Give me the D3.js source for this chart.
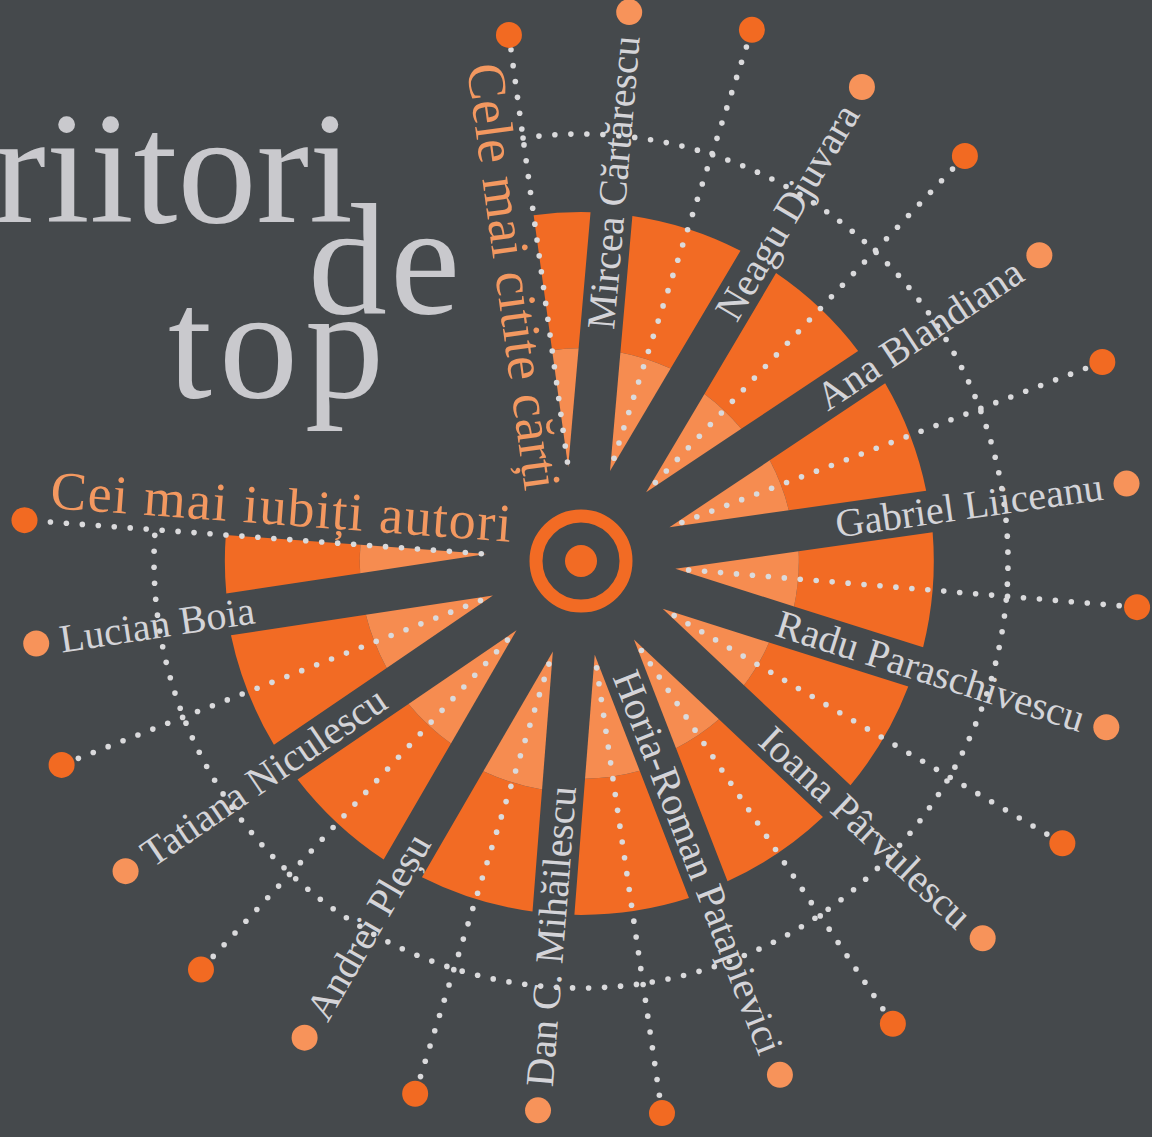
<!DOCTYPE html>
<html>
<head>
<meta charset="utf-8">
<script src="https://cdn.jsdelivr.net/npm/d3@7"></script>
<style>
html, body { margin: 0; padding: 0; background: #45494c; }
svg { display: block; }
text { font-family: "Liberation Serif", "Times New Roman", serif; }
</style>
</head>
<body>
<svg id="chart" width="1152" height="1137"></svg>
<script>
// authors sit in the dark gaps, clockwise from the top
var authors = ["Mircea Cărtărescu", "Neagu Djuvara", "Ana Blandiana", "Gabriel Liiceanu",
    "Radu Paraschivescu", "Ioana Pârvulescu", "Horia-Roman Patapievici", "Dan C. Mihăilescu",
    "Andrei Pleșu", "Tatiana Niculescu", "Lucian Boia"];
// 12 slices (first and last are half slices cut by the two axes)
var totalScore = [62.3, 62.3, 62.1, 62.9, 63.0, 62.6, 62.9, 63.2, 63.2, 63.9, 63.9, 63.6];
var innerScore = [38.0, 37.9, 37.1, 38.2, 38.9, 36.6, 37.5, 38.9, 41.4, 40.0, 39.6, 39.5];
var axisTitles = ["Cele mai citite cărți", "Cei mai iubiți autori"];
var titleWords = ["Scriitori", "de", "top"];

var svg = d3.select("#chart"),
    width = +svg.attr("width"),
    height = +svg.attr("height"),
    cx = 581, cy = 561,
    halfGap = 21;

var dark = "#f26b24", light = "#f68c50", dotGrey = "#dadadc", textGrey = "#d4d4d8";

var rad = Math.PI / 180;
var angle = d3.scaleLinear().domain([0, 11]).range([-97.8 * rad, 184.2 * rad]);
var r = d3.scaleLinear().domain([0, 100]).range([0, 560]);

svg.append("rect").attr("width", width).attr("height", height).attr("fill", "#45494c");

var g = svg.append("g").attr("transform", "translate(" + cx + "," + cy + ")");

function pt(a, rr) { return [rr * Math.cos(a), rr * Math.sin(a)]; }

// an edge is a line parallel to the radius at angle a, shifted by off
function edge(a, off) { return {a: a, off: off}; }
function edgeAt(e, rr) { return e.a + Math.asin(e.off / rr); }
function apex(e1, e2) {
    var p = [-e1.off * Math.sin(e1.a), e1.off * Math.cos(e1.a)],
        q = [-e2.off * Math.sin(e2.a), e2.off * Math.cos(e2.a)],
        u = [Math.cos(e1.a), Math.sin(e1.a)],
        v = [Math.cos(e2.a), Math.sin(e2.a)];
    var cr = u[0] * v[1] - u[1] * v[0];
    var t = ((q[0] - p[0]) * v[1] - (q[1] - p[1]) * v[0]) / cr;
    return [p[0] + t * u[0], p[1] + t * u[1]];
}

function edgesOf(k) {
    var e1 = k === 0 ? edge(angle(0), 0) : edge(angle(k - 0.5), halfGap);
    var e2 = k === 11 ? edge(angle(11), 0) : edge(angle(k + 0.5), -halfGap);
    return [e1, e2];
}

function innerPath(k, r1) {
    var e = edgesOf(k), A = apex(e[0], e[1]);
    var p = d3.path();
    p.moveTo(A[0], A[1]);
    var s = pt(edgeAt(e[0], r1), r1);
    p.lineTo(s[0], s[1]);
    p.arc(0, 0, r1, edgeAt(e[0], r1), edgeAt(e[1], r1));
    p.closePath();
    return p.toString();
}

function ringPath(k, r0, r1) {
    var e = edgesOf(k), p = d3.path();
    var a = pt(edgeAt(e[0], r0), r0), b = pt(edgeAt(e[0], r1), r1);
    p.moveTo(a[0], a[1]);
    p.lineTo(b[0], b[1]);
    p.arc(0, 0, r1, edgeAt(e[0], r1), edgeAt(e[1], r1));
    var c = pt(edgeAt(e[1], r0), r0);
    p.lineTo(c[0], c[1]);
    p.arc(0, 0, r0, edgeAt(e[1], r0), edgeAt(e[0], r0), true);
    p.closePath();
    return p.toString();
}

// dotted ring
var ringR = 427, step = 16 / ringR;
g.selectAll(".ringdot")
    .data(d3.range(angle(0), angle(11) + 0.001, step))
    .enter().append("circle")
    .attr("class", "ringdot")
    .attr("cx", function (a) { return pt(a, ringR)[0]; })
    .attr("cy", function (a) { return pt(a, ringR)[1]; })
    .attr("r", 2.8)
    .attr("fill", dotGrey);

// slices
var slices = g.selectAll(".slice").data(totalScore).enter().append("g").attr("class", "slice");
slices.append("path")
    .attr("d", function (d, k) { return ringPath(k, r(innerScore[k]), r(d)); })
    .attr("fill", dark);
slices.append("path")
    .attr("d", function (d, k) { return innerPath(k, r(innerScore[k])); })
    .attr("fill", light);

// dotted spokes through each slice centre, and the two axes
function spokeDots(a, r0, r1) {
    return d3.range(r0, r1, 16).map(function (rr) { return pt(a, rr); });
}
var spokes = [];
totalScore.forEach(function (d, k) {
    var reach = k === 0 ? 518 : 545;
    spokeDots(angle(k), k === 0 || k === 11 ? 100 : 108, reach).forEach(function (p) { spokes.push(p); });
});
g.selectAll(".spokedot").data(spokes).enter().append("circle")
    .attr("class", "spokedot")
    .attr("cx", function (p) { return p[0]; })
    .attr("cy", function (p) { return p[1]; })
    .attr("r", 2.8)
    .attr("fill", dotGrey);

// end dots of the spokes
g.selectAll(".enddot").data(totalScore).enter().append("circle")
    .attr("class", "enddot")
    .attr("cx", function (d, k) { return pt(angle(k), k === 0 ? 531 : 558)[0]; })
    .attr("cy", function (d, k) { return pt(angle(k), k === 0 ? 531 : 558)[1]; })
    .attr("r", 13)
    .attr("fill", "#f26a22");

// author labels in the gaps
var labelEnd = 527, labelDot = 551;
var labels = g.selectAll(".label").data(authors).enter().append("g").attr("class", "label");
labels.append("circle")
    .attr("cx", function (d, j) { return pt(angle(j + 0.5), labelDot)[0]; })
    .attr("cy", function (d, j) { return pt(angle(j + 0.5), labelDot)[1]; })
    .attr("r", 13)
    .attr("fill", "#f7935a");
labels.append("text")
    .attr("transform", function (d, j) {
        var a = angle(j + 0.5) / rad;
        var right = Math.cos(angle(j + 0.5)) > 0;
        return right ? "rotate(" + a + ")" : "rotate(" + (a + 180) + ")";
    })
    .attr("x", function (d, j) { return Math.cos(angle(j + 0.5)) > 0 ? labelEnd : -labelEnd; })
    .attr("y", 0)
    .attr("dy", "0.32em")
    .attr("text-anchor", function (d, j) { return Math.cos(angle(j + 0.5)) > 0 ? "end" : "start"; })
    .attr("font-size", 40)
    .attr("fill", textGrey)
    .text(function (d) { return d; });

// axis titles
g.append("text")
    .attr("transform", "rotate(" + (angle(0) / rad + 180) + ")")
    .attr("x", -506).attr("y", 46)
    .attr("font-size", 54)
    .attr("textLength", 430)
    .attr("lengthAdjust", "spacing")
    .attr("fill", "#f39860")
    .text(axisTitles[0]);
g.append("text")
    .attr("transform", "rotate(" + (angle(11) / rad - 180) + ")")
    .attr("x", -534).attr("y", -14)
    .attr("font-size", 54)
    .attr("textLength", 462)
    .attr("lengthAdjust", "spacing")
    .attr("fill", "#f39860")
    .text(axisTitles[1]);

// centre target
g.append("circle").attr("r", 45).attr("fill", "none").attr("stroke", dark).attr("stroke-width", 13);
g.append("circle").attr("r", 16).attr("fill", dark);

// title
var title = svg.append("g").attr("fill", "#c9c9cd").attr("font-size", 158);
title.append("text").attr("x", 353).attr("y", 222).attr("text-anchor", "end").text(titleWords[0]);
title.append("text").attr("x", 308).attr("y", 313).attr("letter-spacing", 3).text(titleWords[1]);
title.append("text").attr("x", 168).attr("y", 397).attr("letter-spacing", 7).text(titleWords[2]);
</script>
</body>
</html>
